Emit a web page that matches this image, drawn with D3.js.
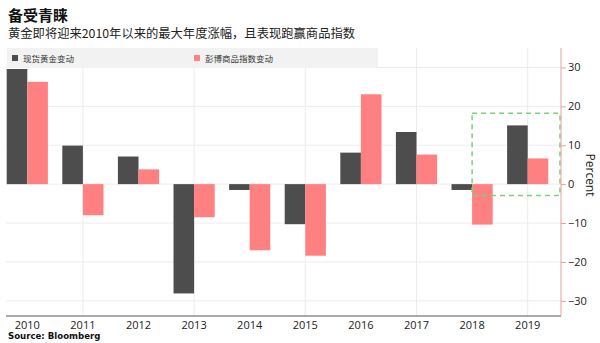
<!DOCTYPE html>
<html><head><meta charset="utf-8">
<script src="https://cdn.jsdelivr.net/npm/d3@7/dist/d3.min.js"></script>
<style>body{margin:0;background:#fff;} svg{display:block;}</style>
</head><body>
<svg id="c" width="600" height="343"></svg>
<script>
const years = ["2010","2011","2012","2013","2014","2015","2016","2017","2018","2019"];
const goldChange = [29.6, 9.9, 7.1, -28.1, -1.5, -10.3, 8.1, 13.4, -1.5, 15.1];
const commodityChange = [26.3, -8.0, 3.8, -8.5, -17.0, -18.4, 23.1, 7.6, -10.4, 6.6];
const seriesNames = ["现货黄金变动", "彭博商品指数变动"];
const yTicks = [30, 20, 10, 0, -10, -20, -30];
const gridYears = ["2011","2013","2015","2017","2019"];
const highlightYears = ["2018","2019"];
const highlightRange = [-2.9, 18.2];

(function(){
const svg = d3.select("#c");
const font = "'Noto Sans CJK SC','Noto Sans',sans-serif";
const colors = ["#4d4d4d", "#ff8080"];
const pLeft = 6, pRight = 561, pTop = 48, pBottom = 316;

const x = d3.scaleBand().domain(years).range([-0.5, 555.5]).padding(0);
const xs = d3.scaleBand().domain([0,1]).range([0, x.step()]).paddingInner(0).paddingOuter(0.35);
const y = d3.scaleLinear().domain([-33.9, 35]).range([pBottom, pBottom - 68.9*3.89]);

// gridlines
svg.append("g").selectAll("line").data(yTicks).join("line")
  .attr("x1", pLeft).attr("x2", pRight).attr("y1", d=>y(d)).attr("y2", d=>y(d))
  .attr("stroke", "#ececec").attr("stroke-width", 1);
svg.append("g").selectAll("line").data(gridYears).join("line")
  .attr("x1", d=>x(d)+x.step()/2).attr("x2", d=>x(d)+x.step()/2)
  .attr("y1", pTop).attr("y2", pBottom)
  .attr("stroke", "#ececec").attr("stroke-width", 1);

// legend background
svg.append("rect").attr("x", 7).attr("y", 48).attr("width", 371).attr("height", 20).attr("fill", "#f2f2f2");
const lg = svg.append("g");
[[12, 0], [194, 1]].forEach(([lx, i]) => {
  lg.append("rect").attr("x", lx).attr("y", 55).attr("width", 6).attr("height", 6).attr("fill", colors[i]);
  lg.append("text").attr("x", lx + 11).attr("y", 61.5).attr("font-family", font).attr("font-size", 8.5)
    .attr("fill", "#333").text(seriesNames[i]);
});

// bars
const data = years.map((yr, i) => ({yr, vals: [goldChange[i], commodityChange[i]]}));
const g = svg.append("g");
data.forEach(d => {
  d.vals.forEach((v, k) => {
    g.append("rect")
      .attr("x", x(d.yr) + xs(k))
      .attr("width", xs.bandwidth())
      .attr("y", Math.min(y(v), y(0)))
      .attr("height", Math.abs(y(v) - y(0)))
      .attr("fill", colors[k]);
  });
});

// highlight box
const hx0 = x(highlightYears[0]) + x.step()/2;
svg.append("rect")
  .attr("x", hx0).attr("y", y(highlightRange[1]))
  .attr("width", pRight - 1 - hx0).attr("height", y(highlightRange[0]) - y(highlightRange[1]))
  .attr("fill", "none").attr("stroke", "#72d872").attr("stroke-width", 1.5).attr("stroke-dasharray", "5,4");

// x axis
svg.append("line").attr("x1", pLeft).attr("x2", pRight).attr("y1", pBottom).attr("y2", pBottom)
  .attr("stroke", "#555").attr("stroke-width", 1);
const xa = svg.append("g").attr("transform", `translate(0,${pBottom})`)
  .call(d3.axisBottom(x).tickSize(0).tickPadding(5));
xa.select(".domain").remove();
xa.selectAll("text").attr("font-family", "'Open Sans','Noto Sans',sans-serif").attr("font-size", 11).attr("fill", "#222");

// right y axis
svg.append("line").attr("x1", pRight).attr("x2", pRight).attr("y1", pTop).attr("y2", pBottom)
  .attr("stroke", "#e8a0a0").attr("stroke-width", 1);
const ya = svg.append("g").attr("transform", `translate(${pRight},0)`)
  .call(d3.axisRight(y).tickValues(yTicks).tickSize(5).tickPadding(2).tickFormat(d3.format("d")));
ya.select(".domain").remove();
ya.selectAll(".tick line").attr("stroke", "#e8a0a0");
ya.selectAll("text").attr("font-family", "'Open Sans','Noto Sans',sans-serif").attr("font-size", 11).attr("fill", "#222");

svg.append("text").attr("transform", `translate(586,175) rotate(90)`)
  .attr("text-anchor", "middle").attr("font-family", "'Open Sans','Noto Sans',sans-serif")
  .attr("font-size", 12).attr("fill", "#222").text("Percent");

// titles
svg.append("text").attr("x", 8).attr("y", 21).attr("font-family", font).attr("font-weight", "bold")
  .attr("font-size", 15).attr("fill", "#111").text("备受青睐");
svg.append("text").attr("x", 8).attr("y", 38).attr("font-family", font)
  .attr("font-size", 12.3).attr("fill", "#222").text("黄金即将迎来2010年以来的最大年度涨幅，且表现跑赢商品指数");
svg.append("text").attr("x", 8).attr("y", 339).attr("font-family", "'DejaVu Sans',sans-serif").attr("font-weight", "bold")
  .attr("font-size", 8.6).attr("fill", "#111").text("Source: Bloomberg");
})();
</script>
</body></html>
